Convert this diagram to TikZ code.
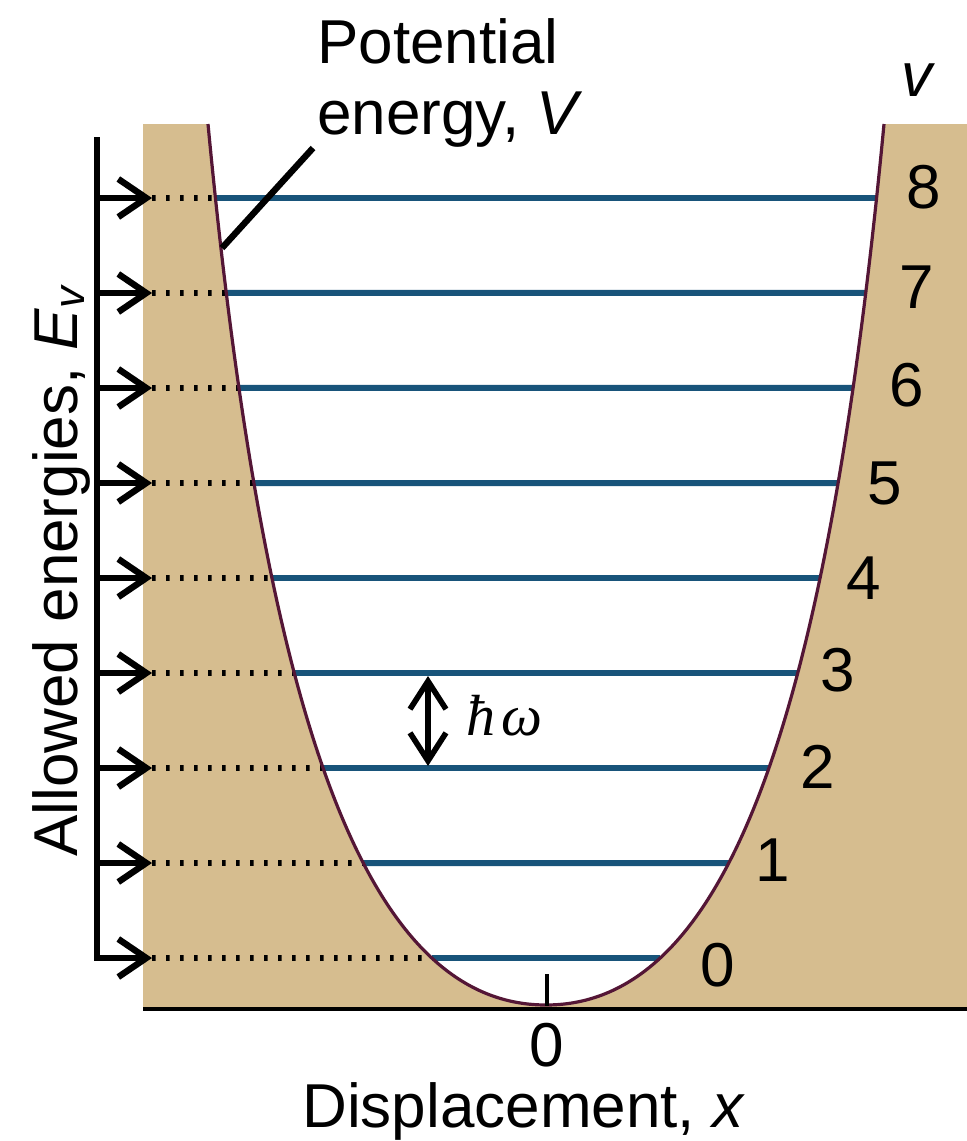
\documentclass[tikz,border=0pt]{standalone}
\usepackage{fontspec}
\setmainfont{Liberation Sans}
\newfontfamily\hbarfont{Liberation Serif}
\usetikzlibrary{arrows.meta,intersections}
\definecolor{wellTan}{RGB}{214,189,143}
\definecolor{levelBlue}{RGB}{24,84,122}
\definecolor{curveMaroon}{RGB}{84,22,54}
\begin{document}
\begin{tikzpicture}[x=0.5pt,y=-0.5pt,
  lbl/.style={inner sep=0pt, font=\fontsize{31}{35.5}\selectfont},
  levelline/.style={draw=levelBlue, line width=3pt},
  dotline/.style={draw=black, line width=2.8pt, dash pattern=on 1.8pt off 5.2pt},
  earrow/.style={draw=black, line width=3.2pt, line join=miter, -{Straight Barb[length=14pt,width=19pt]}},
  dblarrow/.style={draw=black, line width=2.8pt, {Straight Barb[length=14pt,width=18pt]}-{Straight Barb[length=14pt,width=18pt]}},
  wellcurve/.style={draw=curveMaroon, line width=1.6pt},
  axisline/.style={draw=black, line width=2.3pt},
  pointer/.style={draw=black, line width=3.2pt}]
\useasboundingbox (0,0) rectangle (967,1141);
% background region
\fill[wellTan] (143,124) rectangle (967,1009);
\fill[white] (208,124) .. controls (265,724) and (366,1005) .. (546,1005)
  .. controls (726,1005) and (827,724) .. (884,124) -- cycle;
\path[name path=well] (208,124) .. controls (265,724) and (366,1005) .. (546,1005)
  .. controls (726,1005) and (827,724) .. (884,124);
% energy levels
\foreach \v in {0,...,8} {
  \pgfmathsetmacro\yy{958-95*\v}
  \path[name path=hl] (143,\yy) -- (967,\yy);
  \path[name intersections={of=well and hl, sort by=hl, by={L\v,R\v}}];
  \coordinate (T\v) at (152,\yy);
  \coordinate (A\v) at (97,\yy);
}
\foreach \v in {0,...,8} {
  \draw[levelline] (L\v) -- (R\v);
  \draw[dotline] (T\v) -- (L\v);
}
\draw[wellcurve] (208,124) .. controls (265,724) and (366,1005) .. (546,1005)
  .. controls (726,1005) and (827,724) .. (884,124);
% energy axis and arrows
\coordinate (Atop) at (97,137);
\draw[earrow] (Atop) -- (A0) -- (T0);
\foreach \v in {1,...,8} {
  \draw[earrow] (A\v) -- (T\v);
}
% displacement axis
\coordinate (axL) at (143,1009);
\coordinate (axR) at (967,1009);
\draw[axisline] (axL) -- (axR);
\coordinate (tickT) at (547,974);
\coordinate (tickB) at (547,1006);
\draw[axisline] (tickT) -- (tickB);
% hbar omega spacing
\coordinate (dTop) at (428,676);
\coordinate (dBot) at (428,766);
\draw[dblarrow] (dTop) -- (dBot);
\node[inner sep=0pt, anchor=base west, font=\fontsize{29}{34}\selectfont\hbarfont\itshape] (hw) at (466,735) {ħ\kern3pt ω};
% labels
\node[lbl, align=left, anchor=north west] (vlabel) at (317,18) {Potential\\energy, \textit{V}};
\coordinate (ptrA) at (222,248);
\coordinate (ptrB) at (313,148);
\draw[pointer] (ptrA) -- (ptrB);
\node[lbl, rotate=90, anchor=base] (elabel) at (77,570) {Allowed energies, \textit{E}\textsubscript{\textit{v}}};
\node[lbl, anchor=base west] (xlabel) at (302,1127) {Displacement, \textit{x}};
\node[lbl] (zero) at (547,1045) {0};
\node[lbl] (vhead) at (918,80) {\textit{v}};
\foreach \v/\x/\y in {0/718/965, 1/773/860, 2/818/767, 3/838/670, 4/864/578, 5/885/483, 6/907/385, 7/917/287, 8/924/187}
  \node[lbl] (n\v) at (\x,\y) {\v};
\end{tikzpicture}
\end{document}
